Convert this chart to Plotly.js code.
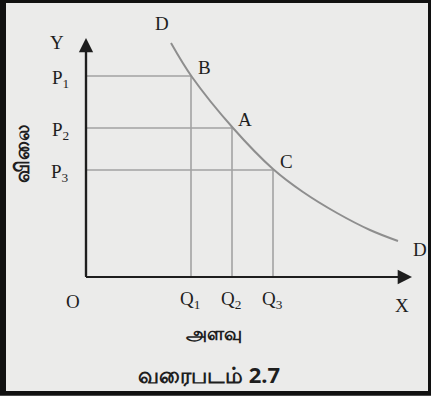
<!DOCTYPE html>
<html>
<head>
<meta charset="utf-8">
<script src="https://cdn.plot.ly/plotly-3.0.1.min.js"></script>
<style>html,body{margin:0;padding:0;background:#fff;}#chart{width:431px;height:400px;}</style>
</head>
<body>
<div id="chart"></div>
<script>
// Demand curve D-D (quantity, price) in chart units
const curveQ = [85, 106, 147, 187, 217, 251, 284, 312];
const curveP = [234, 200, 149, 108, 85, 64, 47, 36];

// Marked points on the curve
const pointNames = ['B', 'A', 'C'];
const quantities = [105, 146, 187];
const prices = [201, 149, 107];

// Axis tick labels
const qLabels = ['Q<sub>1</sub>', 'Q<sub>2</sub>', 'Q<sub>3</sub>'];
const pLabels = ['P<sub>1</sub>', 'P<sub>2</sub>', 'P<sub>3</sub>'];

const xTitle = 'அளவு';
const yTitle = 'விலை';
const figTitle = 'வரைபடம் 2.7';

const serif = 'Liberation Serif, Times New Roman, serif';
const sans = 'Noto Sans, DejaVu Sans, sans-serif';
const ink = '#1e1e1e';
const guide = '#a3a3a3';

const traces = [];
// guide lines
for (let i = 0; i < quantities.length; i++) {
  traces.push({
    x: [0, quantities[i], quantities[i]],
    y: [prices[i], prices[i], 0],
    mode: 'lines', line: {color: guide, width: 1.6},
    hoverinfo: 'skip', showlegend: false
  });
}
// demand curve
traces.push({
  x: curveQ, y: curveP, mode: 'lines',
  line: {color: '#8e8e8e', width: 2, shape: 'spline', smoothing: 1},
  hoverinfo: 'skip', showlegend: false
});

const ann = [];
// axes with arrows
ann.push({x: 0, y: 239, ax: 0, ay: 0, axref: 'x', ayref: 'y', xref: 'x', yref: 'y',
  showarrow: true, arrowhead: 2, arrowsize: 1.3, arrowwidth: 2.2, arrowcolor: ink, text: '', standoff: 0});
ann.push({x: 326, y: 0, ax: 0, ay: 0, axref: 'x', ayref: 'y', xref: 'x', yref: 'y',
  showarrow: true, arrowhead: 2, arrowsize: 1.3, arrowwidth: 2.2, arrowcolor: ink, text: '', standoff: 0});

const lab = (t, x, y, size, extra) => Object.assign({
  text: t, x: x, y: y, xref: 'x', yref: 'y', showarrow: false,
  font: {family: serif, size: size || 19, color: ink}, xanchor: 'center', yanchor: 'middle'
}, extra || {});

for (let i = 0; i < pLabels.length; i++) {
  ann.push(lab(pLabels[i], -26, prices[i] - 3));
  ann.push(lab(qLabels[i], quantities[i] - 1, -23));
  ann.push(lab(pointNames[i], quantities[i] + 13, prices[i] + 9));
}
ann.push(lab('Y', -29, 235));
ann.push(lab('D', 76, 254));
ann.push(lab('D', 334, 28));
ann.push(lab('O', -13, -24));
ann.push(lab('X', 316, -28));
ann.push(lab(xTitle, 128, -56, 19, {font: {family: sans, size: 19, color: ink, weight: 'bold'}}));
ann.push(lab(figTitle, 123, -97, 22, {font: {family: sans, size: 22, color: ink, weight: 'bold'}}));
ann.push(lab(yTitle, -65, 123, 20, {textangle: -90, font: {family: sans, size: 20, color: ink, weight: 'bold'}}));

const layout = {
  width: 431, height: 400,
  margin: {l: 6, r: 3, t: 3, b: 9, pad: 0},
  paper_bgcolor: '#111',
  plot_bgcolor: '#ebebea',
  xaxis: {range: [-80, 342], visible: false, fixedrange: true},
  yaxis: {range: [-114, 274], visible: false, fixedrange: true},
  annotations: ann,
  shapes: [
    {type: 'line', xref: 'x', yref: 'y', x0: 0, y0: 0, x1: 0, y1: 232, line: {color: ink, width: 2.2}},
    {type: 'line', xref: 'x', yref: 'y', x0: 0, y0: 0, x1: 318, y1: 0, line: {color: ink, width: 2.2}},
    {type: 'rect', xref: 'paper', yref: 'paper', x0: -0.05, x1: 1.05, y0: -0.0235, y1: -0.0125,
      fillcolor: '#ffffff', line: {width: 0}, layer: 'above'}
  ],
  showlegend: false
};

Plotly.newPlot('chart', traces, layout, {staticPlot: true, displayModeBar: false});
</script>
</body>
</html>
